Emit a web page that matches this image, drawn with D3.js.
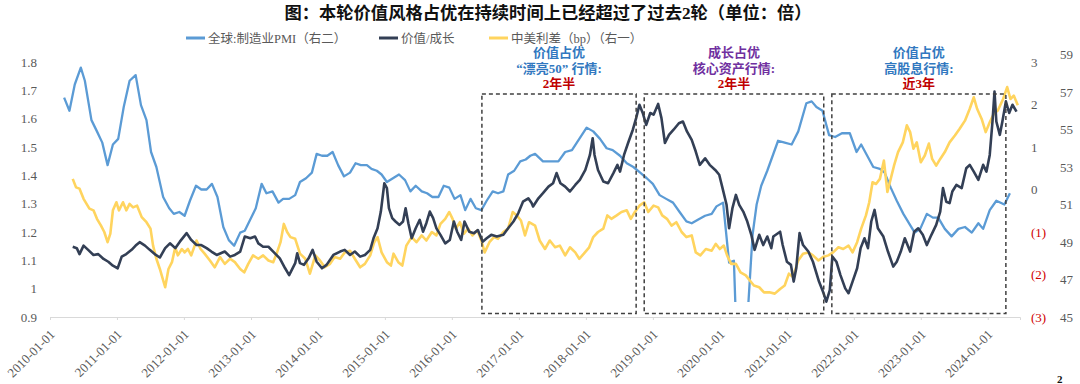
<!DOCTYPE html>
<html>
<head>
<meta charset="utf-8">
<script src="https://cdn.jsdelivr.net/npm/d3@7"></script>
<style>
  body { margin: 0; background: #fff; }
  svg { display: block; font-family: "Liberation Serif", "Noto Sans CJK SC", serif; }
</style>
</head>
<body>
<svg id="chart" width="1080" height="384"></svg>
<script>
// values, dates as decimal years
const pmi = [[2010.21,56.7],[2010.29,56.0],[2010.37,57.4],[2010.46,58.3],[2010.52,57.6],[2010.62,55.5],[2010.70,54.9],[2010.78,54.3],[2010.86,53.1],[2010.94,54.2],[2011.02,54.5],[2011.10,56.2],[2011.19,57.6],[2011.28,57.9],[2011.36,56.3],[2011.44,55.5],[2011.51,53.8],[2011.59,53.0],[2011.69,51.4],[2011.78,50.8],[2011.85,50.5],[2011.93,50.6],[2012.01,50.4],[2012.09,51.2],[2012.18,52.0],[2012.26,51.8],[2012.34,51.8],[2012.42,52.1],[2012.50,51.4],[2012.59,49.8],[2012.67,49.1],[2012.75,48.8],[2012.84,49.5],[2012.91,49.6],[2012.99,50.2],[2013.07,50.8],[2013.16,52.1],[2013.23,51.6],[2013.32,51.7],[2013.41,51.1],[2013.48,51.3],[2013.57,51.3],[2013.66,51.5],[2013.73,52.2],[2013.82,52.4],[2013.91,52.7],[2013.98,53.7],[2014.06,53.6],[2014.14,53.6],[2014.22,53.8],[2014.30,53.1],[2014.39,52.5],[2014.48,52.7],[2014.56,53.2],[2014.64,53.1],[2014.73,53.1],[2014.80,52.9],[2014.88,52.8],[2014.95,52.6],[2015.03,52.2],[2015.12,52.4],[2015.21,52.6],[2015.30,52.3],[2015.38,51.7],[2015.46,52.0],[2015.55,51.7],[2015.63,51.6],[2015.71,51.4],[2015.80,51.4],[2015.88,52.0],[2015.96,51.9],[2016.04,51.3],[2016.13,51.5],[2016.20,50.7],[2016.28,51.3],[2016.36,50.8],[2016.44,50.7],[2016.52,51.2],[2016.61,51.7],[2016.69,51.6],[2016.77,51.7],[2016.84,52.6],[2016.93,52.8],[2017.02,53.3],[2017.10,53.4],[2017.17,53.6],[2017.24,53.7],[2017.36,53.3],[2017.46,53.3],[2017.59,53.3],[2017.69,53.8],[2017.79,53.9],[2017.90,54.5],[2018.01,55.1],[2018.11,54.9],[2018.21,54.5],[2018.31,54.0],[2018.40,53.9],[2018.51,53.6],[2018.61,53.2],[2018.71,53.0],[2018.81,52.7],[2018.91,52.4],[2019.00,52.1],[2019.10,51.5],[2019.20,51.3],[2019.30,51.1],[2019.40,50.6],[2019.50,50.1],[2019.58,50.0],[2019.68,50.2],[2019.78,50.4],[2019.88,50.5],[2019.95,50.9],[2020.05,51.1],[2020.14,47.9],[2020.21,48.0],[2020.29,39.6],[2020.37,42.4],[2020.49,49.4],[2020.55,51.0],[2020.62,52.0],[2020.71,52.8],[2020.87,54.4],[2020.97,54.3],[2021.07,54.2],[2021.17,54.9],[2021.29,56.4],[2021.37,56.5],[2021.44,56.2],[2021.53,56.0],[2021.63,54.7],[2021.72,54.6],[2021.82,54.8],[2021.94,54.8],[2022.04,53.8],[2022.11,54.2],[2022.20,53.6],[2022.29,53.0],[2022.39,52.9],[2022.46,52.7],[2022.55,51.9],[2022.64,51.2],[2022.74,50.5],[2022.84,49.9],[2022.91,49.5],[2022.99,49.7],[2023.09,50.5],[2023.18,50.3],[2023.26,50.3],[2023.36,49.7],[2023.46,49.3],[2023.56,49.7],[2023.66,49.8],[2023.76,49.5],[2023.86,50.0],[2023.93,49.7],[2024.03,50.7],[2024.13,51.2],[2024.25,51.0],[2024.33,51.6]];

const valueGrowth = [[2010.34,1.148],[2010.40,1.143],[2010.44,1.122],[2010.50,1.152],[2010.57,1.137],[2010.65,1.119],[2010.72,1.122],[2010.80,1.105],[2010.87,1.095],[2010.94,1.081],[2011.01,1.072],[2011.07,1.113],[2011.14,1.122],[2011.22,1.137],[2011.28,1.152],[2011.34,1.164],[2011.42,1.152],[2011.49,1.137],[2011.58,1.119],[2011.64,1.110],[2011.72,1.143],[2011.79,1.160],[2011.87,1.143],[2011.94,1.166],[2012.04,1.196],[2012.11,1.172],[2012.19,1.154],[2012.26,1.154],[2012.34,1.143],[2012.41,1.131],[2012.49,1.119],[2012.55,1.125],[2012.61,1.131],[2012.69,1.113],[2012.76,1.119],[2012.84,1.131],[2012.91,1.184],[2012.99,1.178],[2013.06,1.184],[2013.11,1.160],[2013.18,1.148],[2013.26,1.148],[2013.33,1.131],[2013.43,1.107],[2013.51,1.072],[2013.57,1.048],[2013.66,1.090],[2013.69,1.125],[2013.73,1.090],[2013.79,1.084],[2013.86,1.107],[2013.92,1.137],[2013.98,1.095],[2014.06,1.072],[2014.13,1.084],[2014.23,1.119],[2014.33,1.131],[2014.40,1.137],[2014.48,1.119],[2014.55,1.131],[2014.63,1.113],[2014.70,1.119],[2014.78,1.137],[2014.83,1.178],[2014.89,1.213],[2014.94,1.272],[2014.99,1.372],[2015.03,1.355],[2015.06,1.284],[2015.11,1.249],[2015.16,1.237],[2015.22,1.225],[2015.27,1.237],[2015.31,1.284],[2015.35,1.231],[2015.40,1.178],[2015.46,1.213],[2015.52,1.243],[2015.57,1.201],[2015.62,1.231],[2015.67,1.272],[2015.72,1.249],[2015.77,1.213],[2015.83,1.190],[2015.90,1.160],[2015.97,1.172],[2016.03,1.237],[2016.08,1.201],[2016.14,1.172],[2016.19,1.237],[2016.26,1.201],[2016.33,1.196],[2016.39,1.207],[2016.46,1.166],[2016.52,1.178],[2016.59,1.190],[2016.67,1.184],[2016.77,1.190],[2016.84,1.213],[2016.92,1.237],[2016.99,1.266],[2017.06,1.307],[2017.14,1.319],[2017.19,1.302],[2017.21,1.290],[2017.29,1.319],[2017.36,1.337],[2017.44,1.360],[2017.51,1.372],[2017.56,1.408],[2017.62,1.372],[2017.69,1.360],[2017.76,1.343],[2017.84,1.366],[2017.91,1.384],[2017.99,1.419],[2018.06,1.472],[2018.10,1.531],[2018.13,1.472],[2018.18,1.419],[2018.26,1.378],[2018.33,1.372],[2018.41,1.408],[2018.47,1.437],[2018.51,1.413],[2018.57,1.472],[2018.63,1.514],[2018.70,1.561],[2018.75,1.602],[2018.80,1.649],[2018.85,1.620],[2018.90,1.578],[2018.96,1.620],[2019.01,1.614],[2019.08,1.652],[2019.13,1.602],[2019.18,1.514],[2019.24,1.543],[2019.31,1.561],[2019.39,1.584],[2019.45,1.590],[2019.51,1.555],[2019.58,1.525],[2019.64,1.484],[2019.70,1.437],[2019.78,1.460],[2019.85,1.437],[2019.93,1.419],[2019.99,1.402],[2020.04,1.355],[2020.10,1.296],[2020.14,1.213],[2020.19,1.284],[2020.24,1.331],[2020.29,1.296],[2020.35,1.272],[2020.41,1.237],[2020.47,1.190],[2020.52,1.137],[2020.59,1.190],[2020.65,1.154],[2020.71,1.184],[2020.77,1.143],[2020.80,1.184],[2020.90,1.201],[2020.94,1.154],[2021.00,1.095],[2021.06,1.084],[2021.10,1.025],[2021.14,1.072],[2021.19,1.196],[2021.24,1.154],[2021.32,1.131],[2021.39,1.095],[2021.48,1.025],[2021.54,0.989],[2021.59,0.954],[2021.64,0.995],[2021.68,1.113],[2021.74,1.095],[2021.80,1.048],[2021.87,1.001],[2021.92,0.984],[2021.98,1.025],[2022.05,1.072],[2022.10,1.143],[2022.16,1.178],[2022.21,1.143],[2022.26,1.237],[2022.31,1.278],[2022.36,1.213],[2022.44,1.184],[2022.51,1.131],[2022.59,1.078],[2022.64,1.095],[2022.70,1.131],[2022.76,1.178],[2022.84,1.131],[2022.90,1.201],[2022.96,1.213],[2023.03,1.190],[2023.09,1.154],[2023.16,1.190],[2023.23,1.225],[2023.29,1.272],[2023.33,1.355],[2023.38,1.307],[2023.43,1.302],[2023.47,1.343],[2023.53,1.366],[2023.61,1.355],[2023.68,1.425],[2023.73,1.437],[2023.79,1.413],[2023.86,1.384],[2023.93,1.437],[2023.98,1.413],[2024.03,1.472],[2024.07,1.590],[2024.10,1.696],[2024.13,1.590],[2024.18,1.543],[2024.22,1.590],[2024.27,1.661],[2024.32,1.620],[2024.37,1.649],[2024.43,1.625]];

const spread = [[2010.34,0.25],[2010.39,0.05],[2010.44,0.02],[2010.50,-0.22],[2010.59,-0.45],[2010.65,-0.49],[2010.70,-0.69],[2010.76,-0.85],[2010.81,-1.00],[2010.86,-1.24],[2010.90,-1.04],[2010.94,-0.49],[2010.99,-0.30],[2011.03,-0.49],[2011.09,-0.30],[2011.14,-0.49],[2011.19,-0.34],[2011.24,-0.42],[2011.30,-0.38],[2011.37,-0.65],[2011.44,-0.77],[2011.50,-0.92],[2011.54,-1.32],[2011.59,-1.63],[2011.64,-1.87],[2011.72,-2.30],[2011.77,-1.87],[2011.82,-1.71],[2011.87,-1.36],[2011.91,-1.55],[2011.97,-1.40],[2012.01,-1.48],[2012.06,-1.40],[2012.11,-1.55],[2012.19,-1.20],[2012.25,-1.40],[2012.31,-1.51],[2012.39,-1.67],[2012.46,-1.83],[2012.54,-1.59],[2012.61,-1.75],[2012.69,-1.63],[2012.76,-1.71],[2012.84,-1.87],[2012.90,-1.95],[2012.96,-1.75],[2013.03,-1.55],[2013.11,-1.63],[2013.18,-1.55],[2013.26,-1.67],[2013.33,-1.71],[2013.39,-1.48],[2013.44,-1.24],[2013.49,-0.81],[2013.54,-1.00],[2013.59,-1.12],[2013.66,-1.16],[2013.73,-1.51],[2013.81,-1.63],[2013.88,-1.98],[2013.96,-1.55],[2014.03,-1.67],[2014.10,-1.83],[2014.18,-1.75],[2014.25,-1.59],[2014.33,-1.63],[2014.40,-1.48],[2014.48,-1.44],[2014.55,-1.63],[2014.63,-1.83],[2014.70,-1.75],[2014.78,-1.55],[2014.84,-1.24],[2014.89,-1.12],[2014.95,-1.48],[2015.03,-1.71],[2015.09,-1.79],[2015.13,-1.51],[2015.20,-1.71],[2015.26,-1.79],[2015.32,-1.32],[2015.40,-1.12],[2015.47,-1.24],[2015.55,-1.08],[2015.62,-1.20],[2015.70,-1.00],[2015.77,-1.08],[2015.83,-0.81],[2015.90,-0.69],[2015.96,-0.53],[2016.01,-0.69],[2016.06,-0.92],[2016.12,-0.77],[2016.18,-1.04],[2016.24,-0.92],[2016.31,-1.08],[2016.38,-0.96],[2016.44,-1.20],[2016.49,-1.48],[2016.56,-1.24],[2016.63,-1.12],[2016.69,-1.16],[2016.77,-1.00],[2016.84,-0.92],[2016.91,-0.53],[2016.97,-0.61],[2017.03,-0.73],[2017.09,-1.08],[2017.15,-0.77],[2017.24,-0.85],[2017.31,-1.20],[2017.39,-1.40],[2017.46,-1.20],[2017.54,-1.36],[2017.61,-1.32],[2017.69,-1.55],[2017.76,-1.36],[2017.84,-1.48],[2017.90,-1.63],[2017.97,-1.51],[2018.05,-1.36],[2018.11,-1.12],[2018.18,-1.00],[2018.26,-0.92],[2018.32,-0.61],[2018.38,-0.69],[2018.46,-0.61],[2018.53,-0.53],[2018.61,-0.49],[2018.67,-0.69],[2018.73,-0.53],[2018.80,-0.38],[2018.87,-0.30],[2018.93,-0.53],[2019.01,-0.38],[2019.08,-0.42],[2019.14,-0.61],[2019.21,-0.69],[2019.28,-0.85],[2019.35,-0.77],[2019.43,-1.00],[2019.50,-1.12],[2019.58,-1.08],[2019.64,-1.48],[2019.71,-1.55],[2019.79,-1.40],[2019.88,-1.44],[2019.94,-1.28],[2020.00,-1.40],[2020.06,-1.32],[2020.11,-1.55],[2020.17,-1.75],[2020.24,-1.75],[2020.31,-1.95],[2020.39,-2.02],[2020.45,-2.14],[2020.51,-2.26],[2020.59,-2.30],[2020.66,-2.42],[2020.74,-2.42],[2020.82,-2.45],[2020.90,-2.34],[2020.97,-2.26],[2021.03,-1.98],[2021.09,-2.06],[2021.17,-1.67],[2021.24,-1.51],[2021.32,-1.48],[2021.39,-1.55],[2021.47,-1.67],[2021.54,-1.59],[2021.62,-1.55],[2021.69,-1.48],[2021.77,-1.36],[2021.84,-1.40],[2021.92,-1.32],[2021.98,-1.48],[2022.05,-1.24],[2022.11,-0.92],[2022.18,-0.61],[2022.23,-0.30],[2022.28,0.17],[2022.33,0.13],[2022.39,0.25],[2022.45,0.68],[2022.50,-0.06],[2022.55,0.25],[2022.60,0.56],[2022.66,0.88],[2022.73,1.11],[2022.79,1.51],[2022.84,1.35],[2022.89,0.96],[2022.94,1.11],[2023.00,0.64],[2023.06,0.80],[2023.12,1.08],[2023.17,0.72],[2023.23,0.56],[2023.29,0.72],[2023.36,0.88],[2023.43,1.11],[2023.51,1.27],[2023.58,1.43],[2023.66,1.62],[2023.73,1.90],[2023.79,2.17],[2023.84,1.90],[2023.91,1.66],[2023.97,1.35],[2024.03,1.58],[2024.09,1.78],[2024.15,1.86],[2024.23,2.13],[2024.29,2.41],[2024.34,2.13],[2024.39,2.21],[2024.45,1.98]];

const yearTicks = d3.range(2010, 2025);
const leftTicks = [0.9, 1.0, 1.1, 1.2, 1.3, 1.4, 1.5, 1.6, 1.7, 1.8];
const spreadTicks = [-3, -2, -1, 0, 1, 2, 3];
const pmiTicks = [45, 47, 49, 51, 53, 55, 57, 59];
const pmiFloor = 45.8; // PMI line is cut off below this in the source

// regime boxes (decimal years, left-axis values)
const periods = [[2016.45, 2018.75], [2018.87, 2021.55], [2021.67, 2024.27]];
const boxTop = 1.687, boxBottom = 0.912;

const notes = [
  [["价值占优", "#3178c0"], ["“漂亮50” 行情:", "#3178c0"], ["2年半", "#c00000"]],
  [["成长占优", "#7030a0"], ["核心资产行情:", "#7030a0"], ["2年半", "#c00000"]],
  [["价值占优", "#3178c0"], ["高股息行情:", "#3178c0"], ["近3年", "#c00000"]]
];

const legendItems = [
  { label: "全球:制造业PMI（右二）", color: "#5b9bd5" },
  { label: "价值/成长", color: "#333f55" },
  { label: "中美利差（bp）（右一）", color: "#ffd45e" }
];

const title = "图：本轮价值风格占优在持续时间上已经超过了过去2轮（单位：倍）";

// decimal year -> Date
function toDate(t) {
  const y = Math.floor(t);
  return d3.timeDay.offset(new Date(y, 0, 1), Math.round((t - y) * 365.25));
}

const svg = d3.select('#chart');
const plot = { left: 50, right: 1020, top: 62, bottom: 317 };

const x = d3.scaleTime()
    .domain([new Date(2010, 0, 1), new Date(2024, 5, 25)])
    .range([plot.left, plot.right]);
const yLeft = d3.scaleLinear().domain([0.9, 1.8]).range([plot.bottom, plot.top]);
const ySpread = d3.scaleLinear().domain([-3, 3]).range([plot.bottom, plot.top]);
const yPmi = d3.scaleLinear().domain([45, 59]).range([plot.bottom, 54.5]);

// title
svg.append('text')
    .attr('x', 548).attr('y', 19)
    .attr('text-anchor', 'middle')
    .attr('font-size', 17.3).attr('font-weight', 'bold')
    .attr('fill', '#111')
    .text(title);

// legend
const legendX = [186, 379, 489];
legendItems.forEach((d, i) => {
  const g = svg.append('g').attr('transform', 'translate(' + legendX[i] + ',38)');
  g.append('line').attr('x1', 0).attr('x2', 19).attr('y1', 0).attr('y2', 0)
      .attr('stroke', d.color).attr('stroke-width', 3);
  g.append('text').attr('x', 22).attr('y', 4.5)
      .attr('font-size', 12.5).attr('fill', '#595959').text(d.label);
});

// x axis
const xAxis = svg.append('g')
    .attr('transform', 'translate(0,' + plot.bottom + ')')
    .call(d3.axisBottom(x)
      .tickValues(yearTicks.map(y => new Date(y, 0, 1)))
      .tickFormat(d3.timeFormat('%Y-%m-%d'))
      .tickSize(3));
xAxis.select('.domain').attr('stroke', '#d9d9d9');
xAxis.selectAll('.tick line').attr('stroke', '#d9d9d9');
xAxis.selectAll('text')
    .attr('x', 0).attr('y', 0).attr('dy', '0.35em')
    .attr('transform', 'translate(2,15) rotate(-45)')
    .attr('text-anchor', 'end')
    .attr('font-family', '"Liberation Serif", serif')
    .attr('font-size', 13).attr('fill', '#595959');

// left axis
const leftAxis = svg.append('g')
    .attr('transform', 'translate(' + plot.left + ',0)')
    .call(d3.axisLeft(yLeft).tickValues(leftTicks).tickSize(0).tickPadding(13)
      .tickFormat(d => String(+d.toFixed(1))));
leftAxis.select('.domain').remove();
leftAxis.selectAll('text')
    .attr('font-family', '"Liberation Serif", serif')
    .attr('font-size', 13).attr('fill', '#595959');

// right axis 1: spread
const spreadAxis = svg.append('g')
    .attr('transform', 'translate(1031,0)')
    .call(d3.axisRight(ySpread).tickValues(spreadTicks).tickSize(0).tickPadding(0)
      .tickFormat(d => d < 0 ? '(' + (-d) + ')' : String(d)));
spreadAxis.select('.domain').remove();
spreadAxis.selectAll('text')
    .attr('font-family', '"Liberation Serif", serif')
    .attr('font-size', 13)
    .attr('fill', d => d < 0 ? '#d00000' : '#595959');

// right axis 2: PMI
const pmiAxis = svg.append('g')
    .attr('transform', 'translate(1060,0)')
    .call(d3.axisRight(yPmi).tickValues(pmiTicks).tickSize(0).tickPadding(0));
pmiAxis.select('.domain').remove();
pmiAxis.selectAll('text')
    .attr('font-family', '"Liberation Serif", serif')
    .attr('font-size', 13).attr('fill', '#595959');

// clip for the PMI line
svg.append('clipPath').attr('id', 'pmi-clip')
  .append('rect')
    .attr('x', plot.left).attr('y', 0)
    .attr('width', plot.right - plot.left + 20)
    .attr('height', yPmi(pmiFloor));

// lines
const pmiLine = d3.line().x(d => x(toDate(d[0]))).y(d => yPmi(d[1]));
const vgLine = d3.line().x(d => x(toDate(d[0]))).y(d => yLeft(d[1]));
const spreadLine = d3.line().x(d => x(toDate(d[0]))).y(d => ySpread(d[1]));

svg.append('path').datum(pmi)
    .attr('clip-path', 'url(#pmi-clip)')
    .attr('fill', 'none').attr('stroke', '#5b9bd5')
    .attr('stroke-width', 2.3).attr('stroke-linejoin', 'round')
    .attr('d', pmiLine);

svg.append('path').datum(spread)
    .attr('fill', 'none').attr('stroke', '#ffd45e')
    .attr('stroke-width', 2.6).attr('stroke-linejoin', 'round')
    .attr('d', spreadLine);

svg.append('path').datum(valueGrowth)
    .attr('fill', 'none').attr('stroke', '#333f55')
    .attr('stroke-width', 2.6).attr('stroke-linejoin', 'round')
    .attr('d', vgLine);

// dashed regime boxes and notes
periods.forEach((p, i) => {
  const x0 = x(toDate(p[0])), x1 = x(toDate(p[1]));
  svg.append('rect')
      .attr('x', x0).attr('y', yLeft(boxTop))
      .attr('width', x1 - x0).attr('height', yLeft(boxBottom) - yLeft(boxTop))
      .attr('fill', 'none').attr('stroke', '#404040')
      .attr('stroke-width', 1.5).attr('stroke-dasharray', '4,3');

  const cx = (x0 + x1) / 2;
  notes[i].forEach((n, j) => {
    svg.append('text')
        .attr('x', cx).attr('y', 57 + j * 15.5)
        .attr('text-anchor', 'middle')
        .attr('font-family', '"Liberation Serif", "Noto Sans CJK SC", serif')
        .attr('font-size', 13).attr('font-weight', 'bold')
        .attr('fill', n[1]).text(n[0]);
  });
});

// page number in the bottom corner
svg.append('text')
    .attr('x', 1057).attr('y', 383)
    .attr('font-size', 11).attr('font-weight', 'bold')
    .attr('fill', '#111').text('2');
</script>
</body>
</html>
